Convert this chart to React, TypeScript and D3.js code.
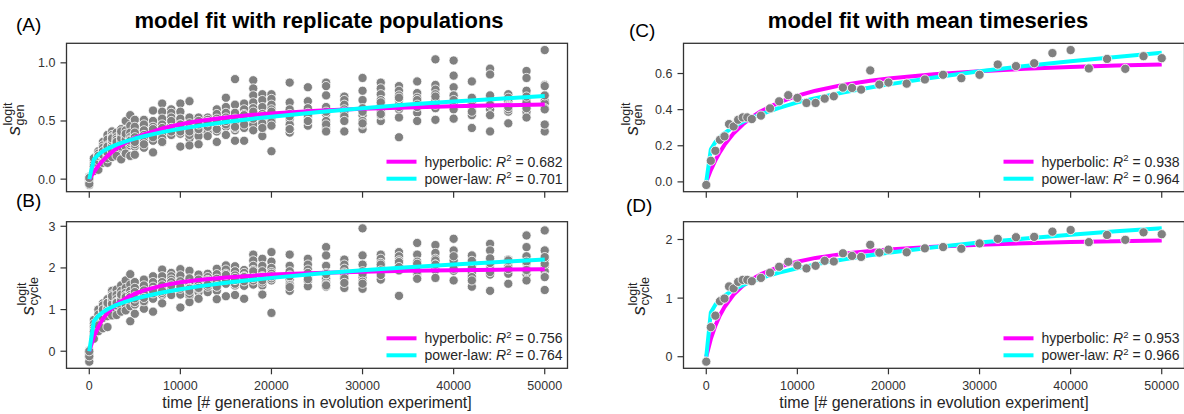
import React from "react";
import * as d3 from "d3";

const FONT = "'Liberation Sans', Arial, Helvetica, sans-serif";

// generations at which fitness was measured
const timePoints = [
  0, 500, 1000, 1500, 2000, 2500, 3000, 3500, 4000, 4500, 5000, 6000, 7000, 8000, 9000,
  10000, 11000, 12000, 13000, 14000, 15000, 16000, 17000, 18000, 19000, 20000, 22000,
  24000, 26000, 28000, 30000, 32000, 34000, 36000, 38000, 40000, 42000, 44000, 46000,
  48000, 50000,
];

// replicate populations, s_gen (one row per time point)
const replicateGen = [
  [0.02, 0.01, 0.0, -0.01, -0.02, -0.03, -0.05, 0.0, -0.04, 0.01],
  [0.08, 0.1, 0.12, 0.14, 0.16, 0.09, 0.13, 0.11, 0.18, 0.07],
  [0.24, 0.2, 0.17, 0.14, 0.12, 0.08, 0.22, 0.19, 0.16, 0.2],
  [0.32, 0.29, 0.25, 0.22, 0.19, 0.14, 0.27, 0.24, 0.2, 0.21],
  [0.38, 0.34, 0.29, 0.25, 0.21, 0.14, 0.28, 0.22, 0.18, 0.23],
  [0.41, 0.38, 0.35, 0.31, 0.28, 0.24, 0.19, 0.33, 0.36, 0.35],
  [0.4, 0.36, 0.33, 0.3, 0.27, 0.24, 0.2, 0.34, 0.31, 0.32],
  [0.43, 0.4, 0.37, 0.34, 0.31, 0.28, 0.17, 0.38, 0.35, 0.41],
  [0.5, 0.42, 0.38, 0.35, 0.32, 0.28, 0.22, 0.37, 0.34, 0.39],
  [0.55, 0.46, 0.4, 0.36, 0.33, 0.29, 0.2, 0.34, 0.31, 0.33],
  [0.51, 0.45, 0.4, 0.36, 0.32, 0.28, 0.21, 0.33, 0.3, 0.32],
  [0.51, 0.47, 0.42, 0.38, 0.34, 0.3, 0.27, 0.36, 0.32, 0.3],
  [0.59, 0.5, 0.45, 0.41, 0.37, 0.33, 0.23, 0.4, 0.36, 0.43],
  [0.65, 0.58, 0.52, 0.47, 0.43, 0.38, 0.32, 0.44, 0.35, 0.32],
  [0.6, 0.57, 0.53, 0.49, 0.46, 0.42, 0.38, 0.5, 0.44, 0.41],
  [0.65, 0.58, 0.52, 0.47, 0.43, 0.39, 0.28, 0.45, 0.41, 0.47],
  [0.67, 0.53, 0.48, 0.44, 0.4, 0.35, 0.29, 0.42, 0.38, 0.41],
  [0.53, 0.5, 0.47, 0.44, 0.41, 0.37, 0.3, 0.45, 0.43, 0.47],
  [0.53, 0.51, 0.49, 0.46, 0.43, 0.4, 0.37, 0.48, 0.45, 0.49],
  [0.6, 0.56, 0.52, 0.48, 0.45, 0.41, 0.32, 0.47, 0.43, 0.5],
  [0.7, 0.62, 0.57, 0.53, 0.49, 0.45, 0.38, 0.51, 0.47, 0.5],
  [0.86, 0.64, 0.57, 0.52, 0.47, 0.42, 0.33, 0.5, 0.44, 0.45],
  [0.65, 0.6, 0.56, 0.52, 0.48, 0.44, 0.33, 0.51, 0.47, 0.55],
  [0.85, 0.78, 0.72, 0.66, 0.61, 0.56, 0.47, 0.58, 0.52, 0.42],
  [0.73, 0.68, 0.62, 0.56, 0.51, 0.46, 0.37, 0.54, 0.48, 0.44],
  [0.73, 0.69, 0.64, 0.6, 0.56, 0.51, 0.24, 0.58, 0.49, 0.46],
  [0.83, 0.66, 0.6, 0.56, 0.52, 0.47, 0.4, 0.54, 0.43, 0.43],
  [0.79, 0.67, 0.61, 0.57, 0.53, 0.49, 0.46, 0.55, 0.5, 0.5],
  [0.83, 0.8, 0.72, 0.62, 0.56, 0.5, 0.44, 0.58, 0.47, 0.41],
  [0.71, 0.68, 0.64, 0.6, 0.56, 0.52, 0.41, 0.58, 0.54, 0.5],
  [0.87, 0.76, 0.68, 0.61, 0.55, 0.5, 0.43, 0.58, 0.47, 0.48],
  [0.83, 0.78, 0.73, 0.68, 0.63, 0.58, 0.5, 0.66, 0.55, 0.56],
  [0.8, 0.76, 0.72, 0.68, 0.64, 0.6, 0.36, 0.7, 0.62, 0.53],
  [0.84, 0.74, 0.7, 0.66, 0.62, 0.57, 0.5, 0.68, 0.64, 0.62],
  [1.03, 0.81, 0.77, 0.73, 0.68, 0.64, 0.51, 0.71, 0.61, 0.64],
  [1.02, 0.89, 0.79, 0.72, 0.66, 0.6, 0.52, 0.7, 0.72, 0.68],
  [0.84, 0.68, 0.65, 0.62, 0.59, 0.55, 0.44, 0.63, 0.58, 0.7],
  [0.95, 0.9, 0.7, 0.65, 0.6, 0.55, 0.41, 0.69, 0.64, 0.72],
  [0.73, 0.7, 0.67, 0.64, 0.61, 0.58, 0.48, 0.63, 0.6, 0.62],
  [0.93, 0.87, 0.76, 0.68, 0.63, 0.58, 0.53, 0.66, 0.61, 0.71],
  [1.11, 0.81, 0.67, 0.65, 0.61, 0.6, 0.41, 0.47, 0.72, 0.8],
];

// replicate populations, s_cycle
const replicateCycle = [
  [0.02, 0.0, -0.05, -0.1, -0.15, -0.25, -0.08, -0.03, -0.12, 0.0],
  [0.75, 0.66, 0.58, 0.5, 0.43, 0.36, 0.3, 0.52, 0.47, 0.47],
  [1.0, 0.88, 0.78, 0.7, 0.62, 0.55, 0.48, 0.72, 0.65, 0.62],
  [1.15, 1.08, 1.0, 0.94, 0.88, 0.8, 0.55, 0.97, 1.1, 1.0],
  [1.25, 1.15, 1.06, 0.99, 0.92, 0.84, 0.58, 1.02, 0.95, 1.16],
  [1.45, 1.36, 1.28, 1.2, 1.12, 1.04, 0.86, 1.22, 1.14, 1.32],
  [1.48, 1.35, 1.25, 1.17, 1.09, 1.0, 0.87, 1.18, 1.1, 1.16],
  [1.58, 1.45, 1.35, 1.27, 1.19, 1.1, 0.95, 1.3, 1.22, 1.36],
  [1.7, 1.52, 1.4, 1.3, 1.21, 1.12, 0.98, 1.33, 1.25, 1.3],
  [1.85, 1.6, 1.45, 1.32, 1.2, 1.08, 0.72, 1.35, 1.24, 1.3],
  [1.66, 1.52, 1.42, 1.32, 1.22, 1.12, 0.9, 1.28, 1.18, 1.27],
  [1.72, 1.58, 1.46, 1.36, 1.27, 1.18, 1.02, 1.38, 1.2, 1.28],
  [1.8, 1.66, 1.55, 1.45, 1.36, 1.26, 0.95, 1.47, 1.39, 1.45],
  [1.96, 1.8, 1.66, 1.55, 1.45, 1.35, 1.15, 1.58, 1.4, 1.45],
  [1.88, 1.8, 1.72, 1.64, 1.56, 1.48, 1.35, 1.66, 1.52, 1.58],
  [1.97, 1.82, 1.68, 1.57, 1.47, 1.36, 1.05, 1.6, 1.5, 1.55],
  [1.93, 1.75, 1.62, 1.52, 1.42, 1.32, 1.18, 1.5, 1.38, 1.45],
  [1.84, 1.72, 1.63, 1.56, 1.49, 1.42, 1.26, 1.58, 1.5, 1.52],
  [1.86, 1.78, 1.71, 1.65, 1.59, 1.52, 1.42, 1.68, 1.55, 1.6],
  [1.98, 1.85, 1.74, 1.64, 1.55, 1.45, 1.25, 1.68, 1.56, 1.55],
  [2.06, 1.96, 1.86, 1.78, 1.7, 1.62, 1.32, 1.8, 1.72, 1.83],
  [2.04, 1.92, 1.82, 1.74, 1.66, 1.58, 1.35, 1.76, 1.62, 1.71],
  [1.95, 1.88, 1.8, 1.72, 1.65, 1.57, 1.26, 1.74, 1.68, 1.78],
  [2.32, 2.18, 2.05, 1.95, 1.86, 1.76, 1.6, 1.92, 1.7, 1.76],
  [2.22, 2.05, 1.92, 1.8, 1.7, 1.58, 1.36, 1.78, 1.65, 1.7],
  [2.38, 2.15, 2.0, 1.9, 1.8, 1.7, 0.92, 1.86, 1.75, 1.8],
  [2.32, 2.05, 1.92, 1.82, 1.72, 1.62, 1.45, 1.8, 1.58, 1.54],
  [2.22, 2.08, 1.96, 1.86, 1.77, 1.68, 1.56, 1.88, 1.75, 1.73],
  [2.5, 2.3, 2.05, 1.88, 1.75, 1.65, 1.6, 1.85, 1.55, 1.58],
  [2.2, 2.08, 1.98, 1.89, 1.8, 1.71, 1.52, 1.86, 1.75, 1.64],
  [2.95, 2.3, 2.08, 1.92, 1.78, 1.65, 1.5, 1.86, 1.67, 1.62],
  [2.32, 2.22, 2.12, 2.04, 1.96, 1.88, 1.72, 2.08, 1.94, 1.83],
  [2.38, 2.28, 2.18, 2.1, 2.02, 1.94, 1.33, 2.14, 2.0, 2.02],
  [2.6, 2.32, 2.15, 2.05, 1.96, 1.86, 1.75, 2.1, 1.92, 1.74],
  [2.55, 2.36, 2.22, 2.12, 2.04, 1.95, 1.76, 2.18, 2.08, 2.08],
  [2.7, 2.42, 2.25, 2.14, 2.04, 1.93, 1.7, 2.18, 1.98, 2.28],
  [2.3, 2.15, 2.05, 1.97, 1.88, 1.78, 1.55, 2.0, 1.7, 2.17],
  [2.58, 2.42, 2.2, 2.08, 1.96, 1.84, 1.45, 2.12, 1.9, 2.23],
  [2.2, 2.12, 2.05, 1.99, 1.93, 1.86, 1.62, 2.02, 1.97, 2.18],
  [2.78, 2.5, 2.28, 2.12, 1.98, 1.85, 1.7, 2.15, 1.92, 1.95],
  [2.9, 2.42, 2.2, 2.05, 1.92, 1.8, 1.47, 2.1, 1.78, 2.26],
];

// mean timeseries
const meanGen = [
  -0.017, 0.117, 0.172, 0.233, 0.252, 0.32, 0.307, 0.344, 0.357, 0.357, 0.348, 0.367, 0.407,
  0.446, 0.48, 0.465, 0.437, 0.437, 0.461, 0.474, 0.522, 0.52, 0.511, 0.617, 0.539, 0.55,
  0.544, 0.567, 0.593, 0.574, 0.593, 0.65, 0.641, 0.657, 0.713, 0.73, 0.628, 0.681, 0.626,
  0.696, 0.685,
];
const meanCycle = [
  -0.084, 0.504, 0.7, 0.947, 0.992, 1.199, 1.165, 1.277, 1.311, 1.311, 1.289, 1.345, 1.434,
  1.535, 1.619, 1.557, 1.507, 1.552, 1.636, 1.625, 1.765, 1.72, 1.703, 1.91, 1.776, 1.826,
  1.782, 1.849, 1.871, 1.843, 1.933, 2.011, 2.039, 2.045, 2.134, 2.162, 1.955, 2.078, 1.994,
  2.123, 2.09,
];

// fitted curves, read at these generations
const fitTimes = [
  0, 500, 1000, 1500, 2000, 3000, 4000, 5000, 6000, 8000, 10000, 12000, 15000, 18000, 20000,
  25000, 30000, 35000, 40000, 45000, 50000,
];
const hypRepGen = [0, 0.06, 0.115, 0.16, 0.2, 0.265, 0.315, 0.355, 0.385, 0.435, 0.472, 0.5, 0.53, 0.553, 0.565, 0.588, 0.605, 0.617, 0.627, 0.635, 0.642];
const powRepGen = [0, 0.17, 0.211, 0.24, 0.262, 0.297, 0.325, 0.349, 0.369, 0.404, 0.434, 0.458, 0.491, 0.52, 0.537, 0.576, 0.61, 0.641, 0.667, 0.692, 0.715];
const hypRepCycle = [0, 0.345, 0.59, 0.78, 0.92, 1.13, 1.27, 1.38, 1.46, 1.575, 1.655, 1.71, 1.77, 1.815, 1.84, 1.88, 1.91, 1.93, 1.946, 1.958, 1.97];
const powRepCycle = [0, 0.72, 0.852, 0.94, 1.008, 1.112, 1.192, 1.259, 1.315, 1.411, 1.489, 1.557, 1.643, 1.717, 1.761, 1.86, 1.944, 2.016, 2.084, 2.145, 2.2];
const hypMeanGen = [0, 0.065, 0.119, 0.165, 0.205, 0.269, 0.318, 0.358, 0.391, 0.44, 0.477, 0.505, 0.537, 0.56, 0.572, 0.596, 0.613, 0.626, 0.636, 0.644, 0.65];
const powMeanGen = [0, 0.18, 0.22, 0.248, 0.27, 0.305, 0.332, 0.355, 0.375, 0.41, 0.44, 0.463, 0.495, 0.523, 0.54, 0.578, 0.612, 0.642, 0.668, 0.692, 0.715];
const hypMeanCycle = [0, 0.304, 0.531, 0.708, 0.848, 1.059, 1.208, 1.321, 1.408, 1.534, 1.62, 1.686, 1.755, 1.804, 1.83, 1.878, 1.912, 1.937, 1.956, 1.971, 1.983];
const powMeanCycle = [0, 0.756, 0.888, 0.975, 1.042, 1.144, 1.222, 1.287, 1.342, 1.435, 1.51, 1.576, 1.658, 1.73, 1.773, 1.866, 1.947, 2.016, 2.083, 2.14, 2.19];

const r2Hyperbolic = ["0.682", "0.756", "0.938", "0.953"];
const r2PowerLaw = ["0.701", "0.764", "0.964", "0.966"];
const xTicks = [0, 10000, 20000, 30000, 40000, 50000];

const MAGENTA = "#ff00ff";
const CYAN = "#00ffff";
const SPINE = "#333333";

type Pt = { t: number; v: number };

function YLabel({ x, y, sub }: { x: number; y: number; sub: string }) {
  const subW = sub.length * 6.2;
  const start = -(10 + Math.max(subW, 26)) / 2;
  return (
    <g transform={`translate(${x},${y}) rotate(-90)`} fontFamily={FONT} fill="#262626">
      <text x={start} y={0} fontSize={19} fontStyle="italic">s</text>
      <text x={start + 10} y={-8.5} fontSize={12.5}>logit</text>
      <text x={start + 10} y={4} fontSize={12.5}>{sub}</text>
    </g>
  );
}

function Panel(props: {
  left: number; top: number; bottom: number; width: number;
  pts: Pt[]; hyp: number[]; pow: number[]; yTicks: number[]; fmt: string;
  pointsOnTop: boolean; xLabels: boolean; r2h: string; r2p: string;
}) {
  const { left, top, bottom, width, pts, hyp, pow, yTicks, fmt, pointsOnTop, xLabels, r2h, r2p } = props;
  const right = left + width;
  const x = d3.scaleLinear().domain([-2500, 52500]).range([left, right]);
  const all = [...pts.map((p) => p.v), ...hyp, ...pow];
  const [lo, hi] = d3.extent(all) as [number, number];
  const pad = (hi - lo) * 0.05;
  const y = d3.scaleLinear().domain([lo - pad, hi + pad]).range([bottom, top]);
  const line = d3.line<number>().x((d, i) => x(fitTimes[i])).y((d) => y(d)).curve(d3.curveLinear);
  const f = d3.format(fmt);

  const points = (
    <g>
      {pts.map((p, i) => (
        <circle key={i} cx={x(p.t)} cy={y(p.v)} r={4.6} fill="#808080" stroke="#ffffff" strokeWidth={0.8} />
      ))}
    </g>
  );
  const curves = (
    <g fill="none" strokeWidth={4} strokeLinejoin="round">
      <path d={line(hyp) || ""} stroke={MAGENTA} />
      <path d={line(pow) || ""} stroke={CYAN} />
    </g>
  );

  const lx = right - 181;
  const tx = right - 143;
  const rows = [
    { c: MAGENTA, name: "hyperbolic: ", r: r2h, cy: bottom - 30 },
    { c: CYAN, name: "power-law: ", r: r2p, cy: bottom - 13 },
  ];

  return (
    <g fontFamily={FONT}>
      {pointsOnTop ? curves : points}
      {pointsOnTop ? points : curves}
      <rect x={left} y={top} width={width} height={bottom - top} fill="none" stroke={SPINE} strokeWidth={1.3} />
      {yTicks.map((t) => (
        <g key={t}>
          <line x1={left - 6} x2={left} y1={y(t)} y2={y(t)} stroke={SPINE} strokeWidth={1.2} />
          <text x={left - 11} y={y(t) + 4.5} textAnchor="end" fontSize={12.5} fill="#333">{f(t)}</text>
        </g>
      ))}
      {xTicks.map((t) => (
        <g key={t}>
          <line x1={x(t)} x2={x(t)} y1={bottom} y2={bottom + 6} stroke={SPINE} strokeWidth={1.2} />
          {xLabels && (
            <text x={x(t)} y={bottom + 22} textAnchor="middle" fontSize={12.5} fill="#333">{t}</text>
          )}
        </g>
      ))}
      {rows.map((r) => (
        <g key={r.name}>
          <line x1={lx} x2={lx + 30} y1={r.cy} y2={r.cy} stroke={r.c} strokeWidth={4} />
          <text x={tx} y={r.cy + 5} fontSize={14} fill="#262626">
            {r.name}
            <tspan fontStyle="italic">R</tspan>
            <tspan fontSize={9.5} dy={-5.5}>2</tspan>
            <tspan dy={5.5}> = {r.r}</tspan>
          </text>
        </g>
      ))}
    </g>
  );
}

export default function App() {
  const repGenPts: Pt[] = timePoints.flatMap((t, i) => replicateGen[i].map((v) => ({ t, v })));
  const repCyclePts: Pt[] = timePoints.flatMap((t, i) => replicateCycle[i].map((v) => ({ t, v })));
  const meanGenPts: Pt[] = timePoints.map((t, i) => ({ t, v: meanGen[i] }));
  const meanCyclePts: Pt[] = timePoints.map((t, i) => ({ t, v: meanCycle[i] }));

  const W = 501;
  const L1 = 66.5;
  const L2 = 683.5;
  const topA = 43.3, botA = 191.7, topB = 221.7, botB = 368.3;
  const xlab = "time [# generations in evolution experiment]";

  return (
    <svg width={1184} height={414} style={{ position: "absolute", left: 0, top: 0, background: "#fff" }}>
      <rect width={1184} height={414} fill="#fff" />
      <text x={L1 + W / 2 + 2} y={28} textAnchor="middle" fontFamily={FONT} fontWeight="bold" fontSize={22} fill="#000">
        model fit with replicate populations
      </text>
      <text x={L2 + W / 2 - 6} y={28} textAnchor="middle" fontFamily={FONT} fontWeight="bold" fontSize={22} fill="#000">
        model fit with mean timeseries
      </text>
      <text x={16} y={31} fontFamily={FONT} fontSize={19} fill="#000">(A)</text>
      <text x={16} y={207} fontFamily={FONT} fontSize={19} fill="#000">(B)</text>
      <text x={629} y={37} fontFamily={FONT} fontSize={19} fill="#000">(C)</text>
      <text x={626} y={212} fontFamily={FONT} fontSize={19} fill="#000">(D)</text>

      <Panel left={L1} top={topA} bottom={botA} width={W} pts={repGenPts} hyp={hypRepGen} pow={powRepGen}
        yTicks={[0, 0.5, 1.0]} fmt=".1f" pointsOnTop={false} xLabels={false} r2h={r2Hyperbolic[0]} r2p={r2PowerLaw[0]} />
      <Panel left={L1} top={topB} bottom={botB} width={W} pts={repCyclePts} hyp={hypRepCycle} pow={powRepCycle}
        yTicks={[0, 1, 2, 3]} fmt="d" pointsOnTop={false} xLabels={true} r2h={r2Hyperbolic[1]} r2p={r2PowerLaw[1]} />
      <Panel left={L2} top={topA} bottom={botA} width={W} pts={meanGenPts} hyp={hypMeanGen} pow={powMeanGen}
        yTicks={[0, 0.2, 0.4, 0.6]} fmt=".1f" pointsOnTop={true} xLabels={false} r2h={r2Hyperbolic[2]} r2p={r2PowerLaw[2]} />
      <Panel left={L2} top={topB} bottom={botB} width={W} pts={meanCyclePts} hyp={hypMeanCycle} pow={powMeanCycle}
        yTicks={[0, 1, 2]} fmt="d" pointsOnTop={true} xLabels={true} r2h={r2Hyperbolic[3]} r2p={r2PowerLaw[3]} />

      <YLabel x={20} y={117.5} sub="gen" />
      <YLabel x={34} y={295} sub="cycle" />
      <YLabel x={638} y={117.5} sub="gen" />
      <YLabel x={645} y={295} sub="cycle" />

      <text x={L1 + W / 2} y={408} textAnchor="middle" fontFamily={FONT} fontSize={16} fill="#262626">{xlab}</text>
      <text x={L2 + W / 2} y={408} textAnchor="middle" fontFamily={FONT} fontSize={16} fill="#262626">{xlab}</text>
    </svg>
  );
}
